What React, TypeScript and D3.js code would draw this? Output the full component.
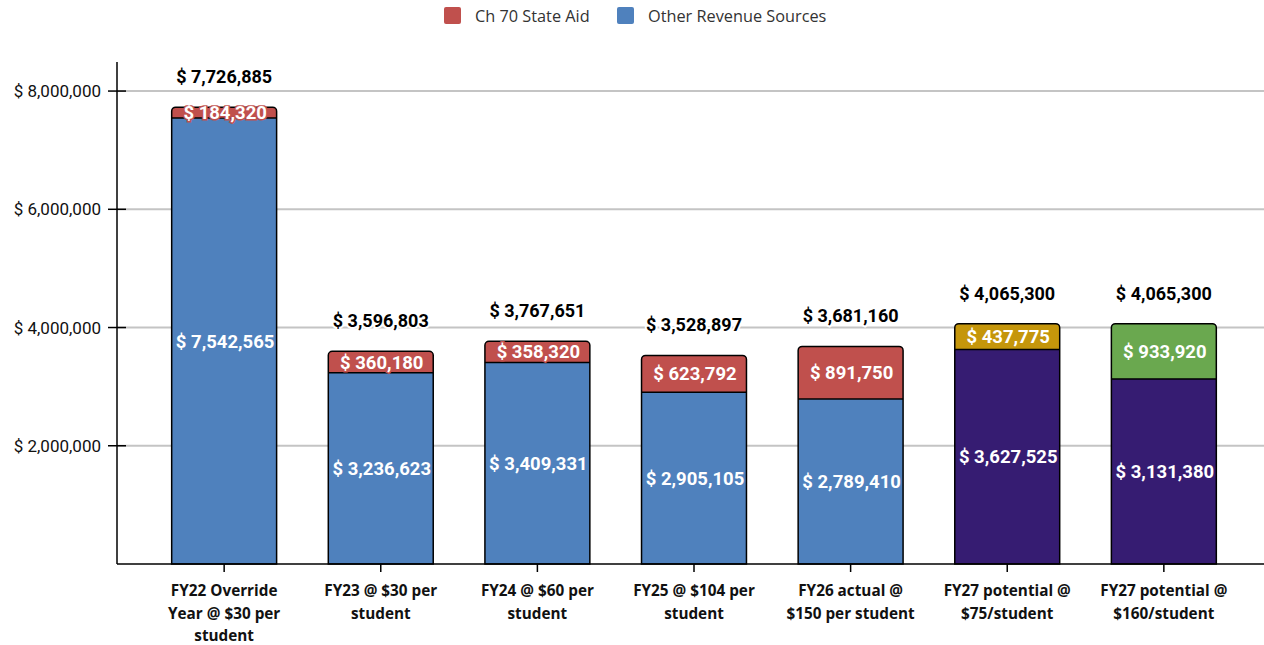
import React from 'react';
import * as d3 from 'd3';

const categories = [
  ['FY22 Override', 'Year @ $30 per', 'student'],
  ['FY23 @ $30 per', 'student'],
  ['FY24 @ $60 per', 'student'],
  ['FY25 @ $104 per', 'student'],
  ['FY26 actual @', '$150 per student'],
  ['FY27 potential @', '$75/student'],
  ['FY27 potential @', '$160/student'],
];
const otherRevenue = [7542565, 3236623, 3409331, 2905105, 2789410, 3627525, 3131380];
const ch70Aid = [184320, 360180, 358320, 623792, 891750, 437775, 933920];
const otherColors = ['#4f81bd', '#4f81bd', '#4f81bd', '#4f81bd', '#4f81bd', '#361c72', '#361c72'];
const aidColors = ['#c0504d', '#c0504d', '#c0504d', '#c0504d', '#c0504d', '#c5960b', '#6aa84f'];
const yTicks = [2000000, 4000000, 6000000, 8000000];
const legendItems = [
  { name: 'Ch 70 State Aid', color: '#c0504d' },
  { name: 'Other Revenue Sources', color: '#4f81bd' },
];

const W = 1264;
const H = 645;
const left = 117;
const base = 564;

const fmt = (v: number) => '$ ' + d3.format(',')(v);

// path for a rect with only the top corners rounded
function topRounded(x: number, y: number, w: number, h: number, r: number) {
  const p = d3.path();
  p.moveTo(x, y + h);
  p.lineTo(x, y + r);
  p.arcTo(x, y, x + r, y, r);
  p.lineTo(x + w - r, y);
  p.arcTo(x + w, y, x + w, y + r, r);
  p.lineTo(x + w, y + h);
  p.closePath();
  return p.toString();
}

export default function App() {
  const x = d3.scaleBand<number>()
    .domain(d3.range(categories.length))
    .range([left + 3, W + 4])
    .paddingInner(0.33)
    .paddingOuter(0.33);
  const y = d3.scaleLinear().domain([0, 8500000]).range([base, 61.5]);
  const bw = x.bandwidth();

  const labelFont = 'Roboto, "Liberation Sans", sans-serif';
  const catFont = '"Open Sans", "Noto Sans", sans-serif';

  return (
    <svg width={W} height={H} style={{ position: 'absolute', left: 0, top: 0, background: '#fff' }}>
      <defs>
        {categories.map((_, i) => {
          const total = otherRevenue[i] + ch70Aid[i];
          return (
            <clipPath id={`clip${i}`} key={i}>
              <rect x={x(i)} y={y(total) - 2} width={bw} height={base - y(total) + 2} />
            </clipPath>
          );
        })}
      </defs>

      {/* legend */}
      <g fontFamily={catFont} fontSize={16.3} fill="#333">
        {legendItems.map((d, i) => {
          const lx = i === 0 ? 444 : 617;
          return (
            <g key={d.name}>
              <rect x={lx} y={7} width={17} height={17} rx={2} fill={d.color} />
              <text x={lx + 31} y={21.5}>{d.name}</text>
            </g>
          );
        })}
      </g>

      {/* grid + y ticks */}
      {yTicks.map(t => (
        <g key={t}>
          <line x1={left} x2={W} y1={y(t)} y2={y(t)} stroke="#c4c4c4" strokeWidth={2} />
          <line x1={108} x2={126} y1={y(t)} y2={y(t)} stroke="#000" strokeWidth={1.5} />
          <text x={101} y={y(t) + 6} textAnchor="end" fontFamily={labelFont} fontSize={17} fill="#111">
            {fmt(t)}
          </text>
        </g>
      ))}

      {/* bars */}
      {categories.map((_, i) => {
        const x0 = x(i) as number;
        const o = otherRevenue[i];
        const a = ch70Aid[i];
        const total = o + a;
        const yTop = y(total);
        const yMid = y(o);
        return (
          <g key={i}>
            <path d={topRounded(x0, yTop, bw, yMid - yTop, 4)} fill={aidColors[i]} />
            <rect x={x0} y={yMid} width={bw} height={base - yMid} fill={otherColors[i]} />
            <line x1={x0} x2={x0 + bw} y1={yMid} y2={yMid} stroke="#000" strokeWidth={1.5} />
            <path d={topRounded(x0, yTop, bw, base - yTop, 4)} fill="none" stroke="#000" strokeWidth={1.5} />
            <g clipPath={`url(#clip${i})`} fontFamily={labelFont} fontWeight="bold" fontSize={18.5} textAnchor="middle">
              <text x={x0 + bw / 2 + 1} y={(yTop + yMid) / 2 + 6.5} fill="#fff"
                stroke={aidColors[i]} strokeWidth={3} paintOrder="stroke">{fmt(a)}</text>
              <text x={x0 + bw / 2 + 1} y={(yMid + base) / 2 + 6.5} fill="#fff"
                stroke={otherColors[i]} strokeWidth={3} paintOrder="stroke">{fmt(o)}</text>
            </g>
            <text x={x0 + bw / 2} y={yTop - 24} textAnchor="middle" fontFamily={labelFont} fontWeight="bold"
              fontSize={18} fill="#000" stroke="#fff" strokeWidth={4} paintOrder="stroke">{fmt(total)}</text>
          </g>
        );
      })}

      {/* axes */}
      <line x1={left} x2={left} y1={62} y2={base} stroke="#000" strokeWidth={1.5} />
      <line x1={left} x2={W} y1={base} y2={base} stroke="#000" strokeWidth={1.5} />
      {categories.map((lines, i) => {
        const cx = (x(i) as number) + bw / 2;
        return (
          <g key={i}>
            <line x1={cx} x2={cx} y1={base} y2={base + 8} stroke="#000" strokeWidth={1.5} />
            <text textAnchor="middle" fontFamily={catFont} fontWeight="bold" fontSize={15.3} fill="#111">
              {lines.map((l, j) => (
                <tspan key={j} x={cx} y={596 + j * 22.5}>{l}</tspan>
              ))}
            </text>
          </g>
        );
      })}
    </svg>
  );
}
